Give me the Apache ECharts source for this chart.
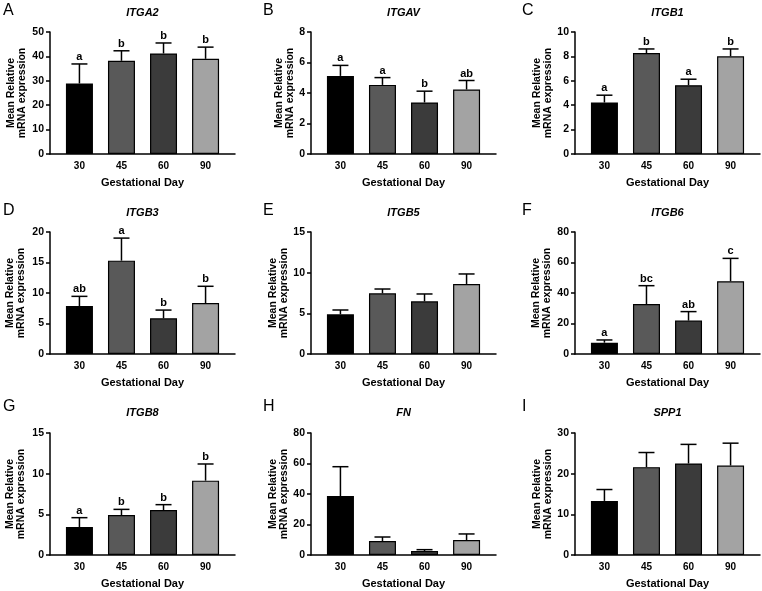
<!DOCTYPE html>
<html>
<head>
<meta charset="utf-8">
<script src="https://cdn.jsdelivr.net/npm/echarts@6/dist/echarts.min.js"></script>
<style>
  html, body { margin: 0; padding: 0; background: #fff; }
  #main { width: 762px; height: 591px; }
</style>
</head>
<body>
<div id="main"></div>
<script>
// 数据
const days = ['30', '45', '60', '90'];
const barColors = ['#000000', '#595959', '#3b3b3b', '#a3a3a3'];
const panelTags = ['A', 'B', 'C', 'D', 'E', 'F', 'G', 'H', 'I'];
const genes = ['ITGA2', 'ITGAV', 'ITGB1', 'ITGB3', 'ITGB5', 'ITGB6', 'ITGB8', 'FN', 'SPP1'];

const itga2Mean = [28.9, 38.2, 41.2, 39.0];
const itga2Sem = [8.0, 4.1, 4.3, 4.8];
const itga2Sig = ['a', 'b', 'b', 'b'];

const itgavMean = [5.12, 4.53, 3.38, 4.23];
const itgavSem = [0.69, 0.48, 0.74, 0.59];
const itgavSig = ['a', 'a', 'b', 'ab'];

const itgb1Mean = [4.22, 8.28, 5.64, 8.01];
const itgb1Sem = [0.60, 0.33, 0.49, 0.60];
const itgb1Sig = ['a', 'b', 'a', 'b'];

const itgb3Mean = [7.87, 15.3, 5.85, 8.36];
const itgb3Sem = [1.58, 3.7, 1.35, 2.74];
const itgb3Sig = ['ab', 'a', 'b', 'b'];

const itgb5Mean = [4.88, 7.46, 6.48, 8.61];
const itgb5Sem = [0.53, 0.53, 0.90, 1.23];
const itgb5Sig = ['', '', '', ''];

const itgb6Mean = [7.4, 32.8, 21.9, 47.7];
const itgb6Sem = [1.8, 12.0, 5.9, 15.0];
const itgb6Sig = ['a', 'bc', 'ab', 'c'];

const itgb8Mean = [3.44, 4.92, 5.53, 9.14];
const itgb8Sem = [1.15, 0.69, 0.66, 2.05];
const itgb8Sig = ['a', 'b', 'b', 'b'];

const fnMean = [38.7, 9.2, 2.6, 9.8];
const fnSem = [19.2, 2.6, 0.9, 4.0];
const fnSig = ['', '', '', ''];

const spp1Mean = [13.3, 21.6, 22.5, 22.0];
const spp1Sem = [2.8, 3.6, 4.7, 5.5];
const spp1Sig = ['', '', '', ''];

const yMax = [50, 8, 10, 20, 15, 80, 15, 80, 30];
const yStep = [10, 2, 2, 5, 5, 20, 5, 20, 10];

const means = [itga2Mean, itgavMean, itgb1Mean, itgb3Mean, itgb5Mean, itgb6Mean, itgb8Mean, fnMean, spp1Mean];
const sems = [itga2Sem, itgavSem, itgb1Sem, itgb3Sem, itgb5Sem, itgb6Sem, itgb8Sem, fnSem, spp1Sem];
const sigs = [itga2Sig, itgavSig, itgb1Sig, itgb3Sig, itgb5Sig, itgb6Sig, itgb8Sig, fnSig, spp1Sig];

// 布局
const FONT = '"Liberation Sans", Arial, sans-serif';
const axisX = [50, 311, 575];
const gridTop = [32, 232, 433];
const titleY = [13, 213, 413];
const tagX = [3, 263, 522];
const tagY = [11, 211, 407];
const gridW = 185, gridH = 122;
const nameGaps = [22, 15, 19.5, 23, 19.5, 22, 23, 19.5, 21.5];

var chart = echarts.init(document.getElementById('main'));

var grids = [], xAxes = [], yAxes = [], series = [], graphics = [];

for (let i = 0; i < 9; i++) {
    const col = i % 3, row = Math.floor(i / 3);
    const left = axisX[col];
    grids.push({ left: left, top: gridTop[row], width: gridW, height: gridH, containLabel: false });

    xAxes.push({
        gridIndex: i,
        type: 'value',
        min: 0.3,
        max: 4.7,
        splitLine: { show: false },
        axisTick: { show: false },
        axisLine: { lineStyle: { color: '#000', width: 1.5 } },
        axisLabel: {
            customValues: [1, 2, 3, 4],
            formatter: v => days[Math.round(v) - 1],
            color: '#000', fontWeight: 'bold', fontSize: 10, fontFamily: FONT, margin: 7
        },
        name: 'Gestational Day',
        nameLocation: 'middle',
        nameGap: 23,
        nameTextStyle: { color: '#000', fontWeight: 'bold', fontSize: 11, fontFamily: FONT }
    });

    yAxes.push({
        gridIndex: i,
        type: 'value',
        min: 0,
        max: yMax[i],
        interval: yStep[i],
        splitLine: { show: false },
        axisLine: { show: true, lineStyle: { color: '#000', width: 1.5 } },
        axisTick: { show: true, length: 4, lineStyle: { color: '#000', width: 1.5 } },
        axisLabel: { color: '#000', fontWeight: 'bold', fontSize: 10.5, fontFamily: FONT, margin: 6 },
        name: 'Mean Relative\nmRNA expression',
        nameLocation: 'middle',
        nameRotate: 90,
        nameGap: nameGaps[i],
        nameTextStyle: { color: '#000', fontWeight: 'bold', fontSize: 10.5, lineHeight: 11, fontFamily: FONT }
    });

    series.push({
        type: 'bar',
        xAxisIndex: i,
        yAxisIndex: i,
        barWidth: 27,
        itemStyle: { borderColor: '#000', borderWidth: 1.2 },
        data: means[i].map((m, j) => ({ value: [j + 1, m], itemStyle: { color: barColors[j] } }))
    });

    // 误差线和显著性字母
    const sig = sigs[i];
    series.push({
        type: 'custom',
        xAxisIndex: i,
        yAxisIndex: i,
        z: 3,
        clip: false,
        data: means[i].map((m, j) => [j + 1, m, sems[i][j]]),
        renderItem: function (params, api) {
            const x = api.value(0), m = api.value(1), s = api.value(2);
            const p0 = api.coord([x, m]);
            const p1 = api.coord([x, m + s]);
            const st = { stroke: '#000', lineWidth: 1.5 };
            const kids = [
                { type: 'line', shape: { x1: p0[0], y1: p0[1], x2: p1[0], y2: p1[1] }, style: st },
                { type: 'line', shape: { x1: p1[0] - 8, y1: p1[1], x2: p1[0] + 8, y2: p1[1] }, style: st }
            ];
            const t = sig[params.dataIndex];
            if (t) {
                kids.push({
                    type: 'text',
                    style: {
                        text: t, x: p1[0], y: p1[1] - 1.5,
                        textAlign: 'center', textVerticalAlign: 'bottom',
                        font: 'bold 11px ' + FONT, fill: '#000'
                    }
                });
            }
            return { type: 'group', children: kids };
        }
    });

    // 标题和面板字母
    graphics.push({
        type: 'text',
        x: left + gridW / 2, y: titleY[row],
        style: {
            text: genes[i], textAlign: 'center', textVerticalAlign: 'middle',
            font: 'italic bold 11px ' + FONT, fill: '#000'
        }
    });
    graphics.push({
        type: 'text',
        x: tagX[col], y: tagY[row],
        style: {
            text: panelTags[i], textAlign: 'left', textVerticalAlign: 'middle',
            font: '16px ' + FONT, fill: '#000'
        }
    });
}

var option = {
    animation: false,
    backgroundColor: '#fff',
    grid: grids,
    xAxis: xAxes,
    yAxis: yAxes,
    series: series,
    graphic: graphics
};
chart.setOption(option);
</script>
</body>
</html>
